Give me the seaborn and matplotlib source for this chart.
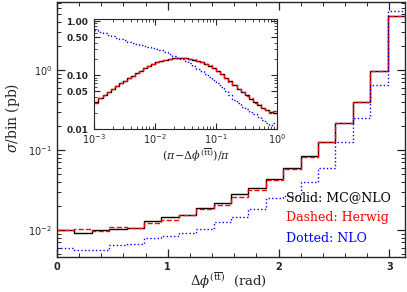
import numpy as np
import pandas as pd
import matplotlib
matplotlib.use("Agg")
import matplotlib.pyplot as plt
from matplotlib.ticker import FixedLocator, LogLocator, MultipleLocator, NullFormatter
import seaborn as sns

# main panel: 20 bins in delta phi from 0 to pi, sigma/bin in pb
n_bins = 20
mcatnlo = [0.0100, 0.0093, 0.0101, 0.0103, 0.0106, 0.0131, 0.0144, 0.0154, 0.0187, 0.0215,
           0.0282, 0.0332, 0.043, 0.059, 0.084, 0.127, 0.215, 0.40, 0.97, 4.77]
herwig = [0.0100, 0.0103, 0.0097, 0.0108, 0.0106, 0.0121, 0.0133, 0.0154, 0.0182, 0.0205,
          0.026, 0.032, 0.042, 0.058, 0.083, 0.127, 0.215, 0.40, 0.97, 4.77]
nlo = [0.0060, 0.0056, 0.0057, 0.0064, 0.0066, 0.0079, 0.0083, 0.0091, 0.0102, 0.0127,
       0.0145, 0.0182, 0.0249, 0.027, 0.040, 0.059, 0.125, 0.249, 0.66, 5.5]

# inset: 45 log bins in (pi - dphi)/pi from 1e-3 to 1
inset_mcatnlo = [0.032, 0.037, 0.043, 0.049, 0.055, 0.062, 0.070, 0.079, 0.088, 0.098,
                 0.108, 0.120, 0.133, 0.148, 0.160, 0.172, 0.182, 0.193, 0.200, 0.207,
                 0.209, 0.209, 0.204, 0.200, 0.193, 0.184, 0.174, 0.162, 0.150, 0.136,
                 0.120, 0.105, 0.089, 0.076, 0.065, 0.056, 0.048, 0.042, 0.036, 0.032,
                 0.028, 0.025, 0.0224, 0.0204, 0.0200]
inset_herwig = [0.031, 0.037, 0.042, 0.049, 0.056, 0.062, 0.071, 0.078, 0.089, 0.097,
                0.109, 0.119, 0.134, 0.146, 0.160, 0.171, 0.183, 0.192, 0.201, 0.206,
                0.210, 0.208, 0.205, 0.199, 0.194, 0.183, 0.175, 0.161, 0.151, 0.135,
                0.121, 0.104, 0.090, 0.075, 0.066, 0.055, 0.049, 0.041, 0.037, 0.031,
                0.029, 0.0245, 0.0225, 0.0200, 0.0220]
inset_nlo = [0.684, 0.638, 0.596, 0.562, 0.531, 0.495, 0.468, 0.437, 0.417, 0.398,
             0.376, 0.359, 0.347, 0.331, 0.316, 0.302, 0.285, 0.266, 0.245, 0.226,
             0.211, 0.200, 0.184, 0.168, 0.148, 0.132, 0.117, 0.106, 0.093, 0.081,
             0.071, 0.060, 0.050, 0.042, 0.035, 0.030, 0.026, 0.0234, 0.0211, 0.0191,
             0.0166, 0.0148, 0.0132, 0.0120, 0.0132]

sns.set_style("ticks")
plt.rcParams['mathtext.fontset'] = 'dejavuserif'

fig = plt.figure(figsize=(4.07, 2.92), dpi=100)
ax = fig.add_axes([0.140, 0.120, 0.855, 0.873])

width = np.pi / n_bins
centers = (np.arange(n_bins) + 0.5) * width
styles = [(mcatnlo, 'black', '-'), (herwig, 'red', '--'), (nlo, 'blue', ':')]
for vals, col, ls in styles:
    df = pd.DataFrame({'x': centers, 'w': vals})
    sns.histplot(data=df, x='x', weights='w', bins=n_bins, binrange=(0, np.pi),
                 element='step', fill=False, color=col, linestyle=ls, linewidth=1.0, ax=ax)

ax.set_yscale('log')
ax.set_xlim(0, np.pi)
ax.set_ylim(0.0046, 7.1)
ax.xaxis.set_major_locator(MultipleLocator(1))
ax.xaxis.set_minor_locator(MultipleLocator(0.2))
ax.yaxis.set_major_locator(LogLocator(base=10))
ax.yaxis.set_minor_locator(LogLocator(base=10, subs=np.arange(2, 10)))
ax.yaxis.set_minor_formatter(NullFormatter())
ax.tick_params(which='both', direction='in', top=True, right=True, labelsize=7)
ax.tick_params(which='major', length=6, width=0.9)
ax.tick_params(which='minor', length=3, width=0.7)
for lab in ax.get_xticklabels():
    lab.set_fontweight('bold')
for sp in ax.spines.values():
    sp.set_linewidth(1.0)
ax.set_xlabel(r'$\Delta\phi^{(\overline{\mathrm{tt}})}$  (rad)', family='DejaVu Serif', fontsize=9.5)
ax.xaxis.set_label_coords(0.494, -0.094)
ax.xaxis.label.set_va('center')
ax.set_ylabel(r'$\sigma$/bin (pb)', family='DejaVu Serif', fontsize=10)
ax.yaxis.set_label_coords(-0.128, 0.545)
ax.yaxis.label.set_va('center')

ax.text(0.658, 0.231, 'Solid: MC@NLO', color='black', transform=ax.transAxes,
        family='DejaVu Serif', fontsize=9, va='center')
ax.text(0.658, 0.153, 'Dashed: Herwig', color='red', transform=ax.transAxes,
        family='DejaVu Serif', fontsize=9, va='center')
ax.text(0.658, 0.071, 'Dotted: NLO', color='blue', transform=ax.transAxes,
        family='DejaVu Serif', fontsize=9, va='center')

# inset
ins = fig.add_axes([0.232, 0.558, 0.449, 0.377])
for vals, col, ls in [(inset_mcatnlo, 'black', '-'), (inset_herwig, 'red', '--'),
                      (inset_nlo, 'blue', ':')]:
    ctr = 10 ** (-3 + (np.arange(len(vals)) + 0.5) / 15)
    df = pd.DataFrame({'x': ctr, 'w': vals})
    sns.histplot(data=df, x='x', weights='w', bins=len(vals), binrange=(-3, 0), log_scale=True,
                 element='step', fill=False, color=col, linestyle=ls, linewidth=1.0, ax=ins)
ins.set_yscale('log')
ins.set_xlim(1e-3, 1)
ins.set_ylim(0.01, 1.09)
ins.set_ylabel('')
ins.yaxis.set_major_locator(FixedLocator([0.01, 0.05, 0.1, 0.5, 1.0]))
ins.set_yticklabels(['0.01', '0.05', '0.10', '0.50', '1.00'])
ins.yaxis.set_minor_locator(LogLocator(base=10, subs=np.arange(2, 10)))
ins.yaxis.set_minor_formatter(NullFormatter())
ins.xaxis.set_major_locator(LogLocator(base=10))
ins.xaxis.set_minor_locator(LogLocator(base=10, subs=np.arange(2, 10)))
ins.xaxis.set_minor_formatter(NullFormatter())
ins.tick_params(which='both', direction='in', top=True, right=True)
ins.tick_params(axis='x', labelsize=7, pad=2.5)
ins.tick_params(axis='y', labelsize=6.5, pad=4.5)
ins.tick_params(which='major', length=4, width=0.8)
ins.tick_params(which='minor', length=2, width=0.6)
for lab in ins.get_yticklabels():
    lab.set_fontweight('bold')
ins.set_xlabel(r'$(\pi\!-\!\Delta\phi^{(\overline{\mathrm{tt}})})/\pi$', fontsize=8)
ins.xaxis.set_label_coords(0.557, -0.235)
ins.xaxis.label.set_va('center')

fig.savefig('out.png', dpi=100)
